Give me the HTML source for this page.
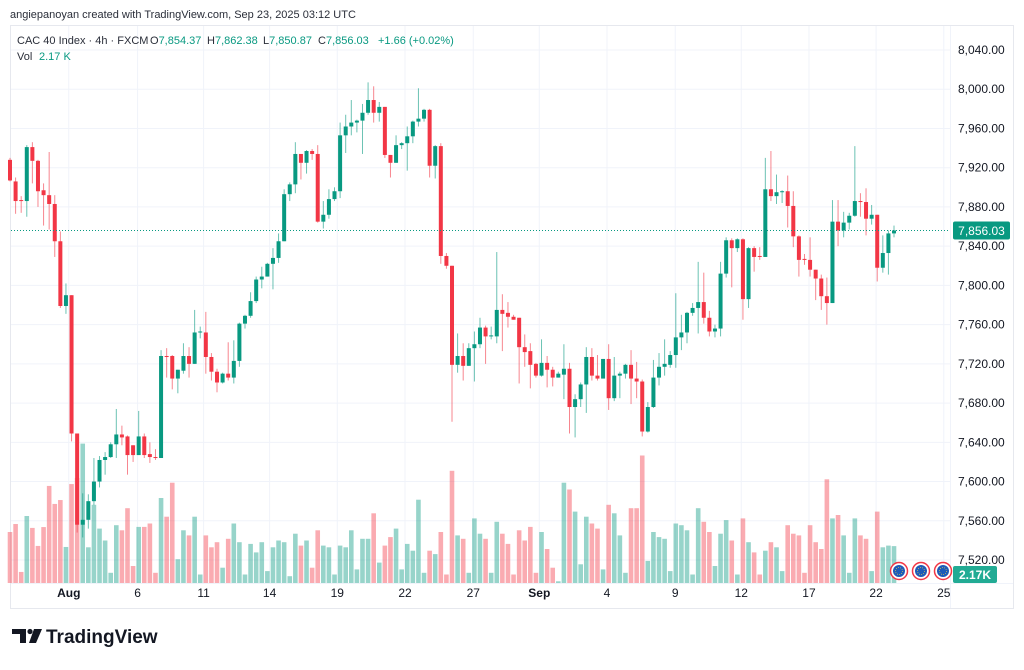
<!DOCTYPE html>
<html><head><meta charset="utf-8">
<style>
html,body{margin:0;padding:0;background:#fff;}
body{width:1024px;height:665px;overflow:hidden;font-family:"Liberation Sans",sans-serif;}
svg text{font-family:"Liberation Sans",sans-serif;}
</style></head>
<body>
<svg id="chart" width="1024" height="665" viewBox="0 0 1024 665" xmlns="http://www.w3.org/2000/svg">
  <text x="10" y="18" font-size="11" fill="#2a2e39">angiepanoyan created with TradingView.com, Sep 23, 2025 03:12 UTC</text>
  <rect x="10.5" y="25.5" width="1003" height="583" fill="none" stroke="#e6e8ee"/>
  <g id="grid"></g>
  <g id="vols"></g>
  <g id="candles"></g>
  <g id="axes"></g>
  <g font-size="11" fill="#2a2e39">
    <text x="17" y="44">CAC 40 Index · 4h · FXCM</text>
    <text x="150" y="44">O<tspan fill="#089981">7,854.37</tspan></text>
    <text x="207" y="44">H<tspan fill="#089981">7,862.38</tspan></text>
    <text x="263" y="44">L<tspan fill="#089981">7,850.87</tspan></text>
    <text x="318" y="44">C<tspan fill="#089981">7,856.03</tspan></text>
    <text x="378" y="44" fill="#089981">+1.66 (+0.02%)</text>
    <text x="17" y="60">Vol</text>
    <text x="39" y="60" fill="#089981">2.17 K</text>
  </g>
  <g>
    <path d="M12 629h14v14h-6v-9h-8z" fill="#131722"/>
    <circle cx="30" cy="631.5" r="2.6" fill="#131722"/>
    <path d="M34 629h8l-6 14h-7z" fill="#131722"/>
    <text x="46" y="643" font-size="19" font-weight="bold" fill="#131722">TradingView</text>
  </g>
</svg>
<script>
const opens=[7928,7906,7887,7886,7941,7927,7897,7892,7883,7845,7779,7790,7649,7556,7561,7580,7600,7622,7625,7638,7648,7646,7637,7627,7646,7628,7625,7624,7728,7728,7705,7713,7728,7720,7752,7752,7727,7712,7701,7710,7706,7723,7761,7769,7784,7806,7809,7822,7828,7845,7893,7903,7934,7925,7937,7934,7865,7872,7888,7896,7953,7962,7966,7968,7976,7989,7976,7982,7933,7925,7943,7945,7952,7967,7970,7979,7922,7942,7830,7820,7719,7728,7718,7736,7740,7757,7748,7748,7775,7772,7768,7767,7737,7733,7720,7708,7721,7714,7706,7709,7715,7676,7684,7699,7727,7708,7705,7725,7685,7708,7710,7719,7705,7702,7651,7676,7706,7717,7719,7729,7747,7752,7772,7777,7783,7767,7753,7756,7812,7846,7838,7847,7786,7838,7830,7829,7898,7891,7895,7896,7881,7850,7827,7826,7816,7807,7789,7782,7865,7856,7864,7871,7886,7885,7868,7872,7818,7833,7853];
const highs=[7930,7910,7891,7943,7946,7928,7904,7936,7892,7855,7802,7790,7649,7588,7587,7624,7626,7630,7640,7674,7657,7647,7637,7672,7649,7640,7633,7734,7736,7729,7714,7741,7737,7775,7758,7773,7731,7715,7711,7742,7744,7762,7770,7793,7809,7819,7823,7838,7853,7898,7905,7946,7934,7938,7939,7943,7886,7898,7900,7966,7974,7989,7969,7985,8007,8003,7987,7982,7933,7953,7946,7962,7968,8001,7980,7980,7943,7945,7833,7820,7751,7741,7741,7753,7767,7759,7758,7834,7791,7783,7770,7767,7750,7741,7721,7745,7728,7717,7712,7740,7721,7689,7701,7737,7736,7729,7725,7740,7727,7712,7720,7734,7722,7704,7681,7724,7731,7745,7733,7792,7770,7773,7782,7824,7813,7774,7760,7824,7849,7848,7848,7848,7839,7840,7839,7930,7937,7913,7897,7912,7896,7851,7832,7849,7816,7811,7808,7887,7887,7875,7874,7942,7894,7899,7882,7872,7851,7856,7861];
const lows=[7906,7873,7874,7870,7904,7880,7861,7857,7829,7777,7771,7641,7548,7543,7552,7576,7594,7607,7624,7624,7637,7607,7620,7627,7624,7619,7622,7624,7706,7694,7690,7710,7706,7720,7746,7710,7703,7691,7700,7703,7700,7717,7756,7767,7782,7797,7809,7796,7823,7845,7886,7894,7908,7914,7928,7864,7858,7868,7886,7889,7935,7953,7956,7934,7974,7966,7967,7930,7910,7925,7939,7917,7945,7962,7967,7910,7909,7822,7817,7661,7711,7703,7718,7702,7736,7720,7745,7741,7733,7757,7765,7700,7717,7695,7706,7707,7696,7697,7706,7684,7649,7645,7676,7670,7703,7703,7705,7673,7682,7685,7705,7679,7685,7646,7650,7675,7698,7708,7716,7716,7734,7741,7769,7751,7761,7748,7747,7748,7808,7798,7834,7765,7777,7814,7826,7829,7886,7883,7884,7859,7839,7809,7821,7809,7785,7775,7760,7782,7840,7849,7857,7870,7870,7851,7862,7804,7813,7811,7849];
const closes=[7907,7886,7886,7941,7927,7896,7892,7883,7845,7779,7790,7649,7556,7561,7580,7600,7622,7625,7638,7648,7645,7627,7627,7646,7627,7625,7624,7728,7727,7705,7714,7728,7720,7752,7753,7727,7712,7701,7710,7706,7723,7761,7769,7784,7806,7809,7822,7828,7845,7893,7903,7934,7925,7937,7934,7865,7872,7888,7896,7953,7962,7966,7968,7976,7989,7976,7982,7933,7925,7943,7945,7952,7967,7970,7979,7922,7942,7830,7820,7719,7728,7718,7736,7740,7757,7748,7749,7775,7771,7768,7765,7737,7732,7719,7708,7721,7714,7706,7710,7715,7676,7684,7699,7727,7708,7705,7725,7685,7708,7710,7719,7705,7702,7651,7676,7706,7717,7720,7729,7747,7752,7772,7777,7783,7767,7753,7756,7812,7846,7838,7847,7786,7838,7829,7829,7898,7891,7895,7896,7881,7850,7826,7826,7816,7807,7789,7782,7865,7856,7864,7871,7886,7885,7868,7872,7818,7833,7853,7856.03];
const volumes=[3.0,3.47,0.65,3.94,3.24,2.18,3.29,5.71,4.65,4.88,2.12,5.82,6.18,8.2,2.1,4.6,3.2,2.5,0.6,3.4,3.1,4.4,1.0,3.3,3.3,3.5,0.6,5.0,3.9,5.9,1.4,3.1,2.8,3.9,0.5,2.8,2.1,2.4,0.9,2.6,3.5,2.4,0.5,2.3,1.8,2.4,0.7,2.1,2.5,2.4,0.4,2.9,2.2,2.5,0.9,3.1,2.2,2.1,0.5,2.2,2.1,3.1,0.8,2.6,2.6,4.1,1.2,2.2,2.7,3.2,0.8,2.3,1.9,4.9,0.6,1.9,1.7,3.0,0.5,6.6,2.8,2.6,0.6,3.8,2.9,2.6,0.6,3.6,2.9,2.3,0.5,3.1,2.5,3.3,0.6,3.0,2.0,0.9,0.1,5.9,5.5,4.2,1.1,3.9,3.5,3.2,0.8,4.6,4.1,2.8,0.6,4.4,4.4,7.5,1.3,3.0,2.7,2.6,0.7,3.5,3.4,3.1,0.5,4.4,3.6,3.0,1.0,2.9,3.7,2.5,0.5,3.8,2.4,1.8,0.5,1.9,2.4,2.1,0.7,3.4,2.9,2.8,0.6,3.4,2.4,2.0,6.1,3.8,4.0,2.8,0.6,3.8,2.8,2.6,0.7,4.2,2.1,2.2,2.17];
const priceTicks=[8040,8000,7960,7920,7880,7840,7800,7760,7720,7680,7640,7600,7560,7520];
const dateLabels=["Aug","6","11","14","19","22","27","Sep","4","9","12","17","22","25"];
const dateIdx=[10.5,22.8,34.6,46.4,58.5,70.6,82.8,94.6,106.7,118.9,130.7,142.8,154.8,166.9];
const lastPrice=7856.03, lastVol="2.17K";

const NS="http://www.w3.org/2000/svg";
const X0=10,STEP=5.595,PLOT_R=950,VOL_BASE=583;
const xOf=i=>X0+i*STEP;
const yOf=p=>50+(8040-p)*0.9808;
const yVol=v=>VOL_BASE-v*17;
const UP="#089981",DN="#f23645",UPV="rgba(8,153,129,0.42)",DNV="rgba(242,54,69,0.42)";
function mk(tag,attrs,parent){const e=document.createElementNS(NS,tag);for(const k in attrs)e.setAttribute(k,attrs[k]);parent.appendChild(e);return e;}

const grid=document.getElementById('grid'),axes=document.getElementById('axes');
priceTicks.forEach(p=>{
  const y=yOf(p);
  const gl=mk('line',{x1:11,x2:PLOT_R,y1:y,y2:y,stroke:"#f0f3fa","stroke-width":1},grid);
  
  
  const t=mk('text',{x:958,y:y+4,"font-size":12,fill:"#131722"},axes);
  t.textContent=p.toLocaleString('en-US',{minimumFractionDigits:2});
  
  
});
dateLabels.forEach((d,k)=>{
  const x=xOf(dateIdx[k]);
  const gl=mk('line',{x1:x,x2:x,y1:26,y2:583,stroke:"#f0f3fa","stroke-width":1},grid);
  
  
  const bold=(d==="Aug"||d==="Sep");
  const t=mk('text',{x:x,y:597,"font-size":12,fill:"#131722","text-anchor":"middle","font-weight":bold?"bold":"normal"},axes);
  t.textContent=d;
  
  
});
const sep=mk('line',{x1:PLOT_R+0.5,x2:PLOT_R+0.5,y1:26,y2:608,stroke:"#f0f3fa"},grid);


const sepB=mk('line',{x1:11,x2:1013,y1:583.5,y2:583.5,stroke:"#f0f3fa"},grid);



const vg=document.getElementById('vols');
volumes.forEach((v,i)=>{
  const up=closes[i]>=opens[i];
  const y=yVol(v);
  const r=mk('rect',{x:xOf(i)-2.3,y:y,width:4.6,height:VOL_BASE-y,fill:up?UPV:DNV},vg);
  
  
});
const cg=document.getElementById('candles');
opens.forEach((o,i)=>{
  const c=closes[i],up=c>=o,col=up?UP:DN,x=xOf(i);
  const g=mk('g',{},cg);
  
  
  mk('line',{x1:x,x2:x,y1:yOf(highs[i]),y2:yOf(lows[i]),stroke:col,"stroke-width":1,"stroke-opacity":0.6},g);
  const top=yOf(Math.max(o,c)),bot=yOf(Math.min(o,c));
  mk('rect',{x:x-2,y:top,width:4,height:Math.max(1,bot-top),fill:col},g);
});
const ly=yOf(lastPrice);
const pl=mk('line',{x1:11,x2:PLOT_R,y1:ly,y2:ly,stroke:UP,"stroke-width":1,"stroke-dasharray":"1 2"},axes);


const pb=mk('rect',{x:953,y:ly-9,width:57,height:18,rx:2,fill:UP},axes);


const pt=mk('text',{x:981.5,y:ly+4.5,"font-size":12,fill:"#fff","text-anchor":"middle"},axes);
pt.textContent=lastPrice.toLocaleString('en-US',{minimumFractionDigits:2});
const vb=mk('rect',{x:953,y:566,width:44,height:17,rx:2,fill:"#22ab94"},axes);


const vt=mk('text',{x:975,y:579,"font-size":12,"font-weight":"bold",fill:"#fff","text-anchor":"middle"},axes);
vt.textContent=lastVol;
[899,921,943].forEach(x=>{
  const g=mk('g',{},axes);
  
  
  mk('circle',{cx:x,cy:571,r:8.5,fill:"#fff",stroke:"#f23645","stroke-width":1.5},g);
  mk('circle',{cx:x,cy:571,r:6,fill:"#1e5bb8"},g);
  mk('circle',{cx:x,cy:571,r:3.5,fill:"none",stroke:"#f5d142","stroke-width":0.8,"stroke-dasharray":"0.8 1.4"},g);
});
</script>
</body></html>
